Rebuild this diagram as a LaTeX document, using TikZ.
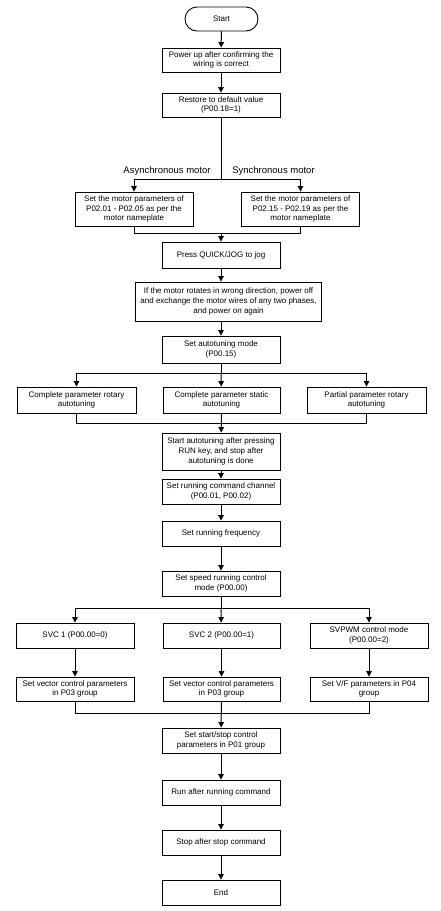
\documentclass[tikz,border=0pt]{standalone}
\usepackage{fontspec}
\setmainfont{Liberation Sans}
\usetikzlibrary{arrows.meta}

\begin{document}
\begin{tikzpicture}[x=1pt,y=-1pt,
        box/.style={draw,line width=0.9pt,minimum width=118pt,minimum height=25pt,align=center,inner sep=1pt,font=\fontsize{8}{9.8}\selectfont},
        lbl/.style={font=\fontsize{9.5}{11}\selectfont},
        line/.style={line width=1pt},
        arr/.style={line width=1pt,-{Triangle[width=5.5pt,length=5.5pt]}}]
        \useasboundingbox (0,0) rectangle (440,911);

        %main column
        \node[box,rounded corners=12pt,minimum width=73pt,minimum height=24pt] (start) at(221.5,19) {Start};
        \node[box,minimum height=24pt] (power) at(221,60) {Power up after confirming the\\wiring is correct};
        \node[box,minimum height=24pt] (restore) at(221,105) {Restore to default value\\(P00.18=1)};

        %motor type
        \node[box,minimum height=34pt] (asyn) at(134,209) {Set the motor parameters of\\P02.01 - P02.05 as per the\\motor nameplate};
        \node[box,minimum height=34pt] (syn) at(300.5,209) {Set the motor parameters of\\P02.15 - P02.19 as per the\\motor nameplate};
        \node[lbl] (asynlbl) at(167,171) {Asynchronous motor};
        \node[lbl] (synlbl) at(273.5,171) {Synchronous motor};
        \coordinate (b1) at(221,179);
        \coordinate (m1) at(221,233);

        \node[box,minimum height=26pt] (jog) at(221,255) {Press QUICK/JOG to jog};
        \node[box,minimum width=186pt,minimum height=39pt] (dir) at(228.5,301.5) {If the motor rotates in wrong direction, power off\\and exchange the motor wires of any two phases,\\and power on again};
        \node[box,minimum height=27pt] (mode) at(221,349.5) {Set autotuning mode\\(P00.15)};

        %autotuning
        \node[box,minimum width=119pt,minimum height=26pt] (rot) at(76.5,400) {Complete parameter rotary\\autotuning};
        \node[box,minimum width=117pt,minimum height=26pt] (stat) at(221.5,400) {Complete parameter static\\autotuning};
        \node[box,minimum width=119pt,minimum height=26pt] (part) at(366.5,400) {Partial parameter rotary\\autotuning};
        \coordinate (b2) at(221,373);
        \coordinate (m2) at(221,423);

        \node[box,minimum height=37pt] (tune) at(221,451.5) {Start autotuning after pressing\\RUN key, and stop after\\autotuning is done};
        \node[box] (cmd) at(221,491.5) {Set running command channel\\(P00.01, P00.02)};
        \node[box] (freq) at(221,533.5) {Set running frequency};
        \node[box] (speed) at(221,583.5) {Set speed running control\\mode (P00.00)};

        %control mode
        \node[box] (svca) at(75,635.5) {SVC 1 (P00.00=0)};
        \node[box,minimum width=117pt] (svcb) at(221.5,635.5) {SVC 2 (P00.00=1)};
        \node[box] (svpwm) at(369,635.5) {SVPWM control mode\\(P00.00=2)};
        \node[box,minimum height=24pt] (veca) at(75,689) {Set vector control parameters\\in P03 group};
        \node[box,minimum width=117pt,minimum height=24pt] (vecb) at(221.5,689) {Set vector control parameters\\in P03 group};
        \node[box,minimum height=24pt] (vf) at(369,689) {Set V/F parameters in P04\\group};
        \coordinate (b3) at(221,608);
        \coordinate (m3) at(221,713);

        \node[box] (ss) at(221,740.5) {Set start/stop control\\parameters in P01 group};
        \node[box] (run) at(221,792.5) {Run after running command};
        \node[box] (stop) at(221,842.5) {Stop after stop command};
        \node[box] (end) at(221,892.5) {End};

        %connectors
        \draw[arr] (start) -- (power);
        \draw[arr] (power) -- (restore);
        \draw[line] (restore) -- (b1);
        \draw[arr] (b1) -| (asyn);
        \draw[arr] (b1) -| (syn);
        \draw[line] (asyn) |- (m1);
        \draw[line] (syn) |- (m1);
        \draw[arr] (m1) -- (jog);
        \draw[arr] (jog) -- (jog|-dir.north);
        \draw[arr] (dir.south-|mode) -- (mode);
        \draw[line] (mode) -- (b2);
        \draw[arr] (b2) -| (rot);
        \draw[arr] (b2) -- (stat);
        \draw[arr] (b2) -| (part);
        \draw[line] (rot) |- (m2);
        \draw[line] (part) |- (m2);
        \draw[arr] (stat) -- (tune);
        \draw[arr] (tune) -- (cmd);
        \draw[arr] (cmd) -- (freq);
        \draw[arr] (freq) -- (speed);
        \draw[line] (speed) -- (b3);
        \draw[arr] (b3) -| (svca);
        \draw[arr] (b3) -- (svcb);
        \draw[arr] (b3) -| (svpwm);
        \draw[arr] (svca) -- (veca);
        \draw[arr] (svcb) -- (vecb);
        \draw[arr] (svpwm) -- (vf);
        \draw[line] (veca) |- (m3);
        \draw[line] (vf) |- (m3);
        \draw[arr] (vecb) -- (ss);
        \draw[arr] (ss) -- (run);
        \draw[arr] (run) -- (stop);
        \draw[arr] (stop) -- (end);
\end{tikzpicture}
\end{document}
